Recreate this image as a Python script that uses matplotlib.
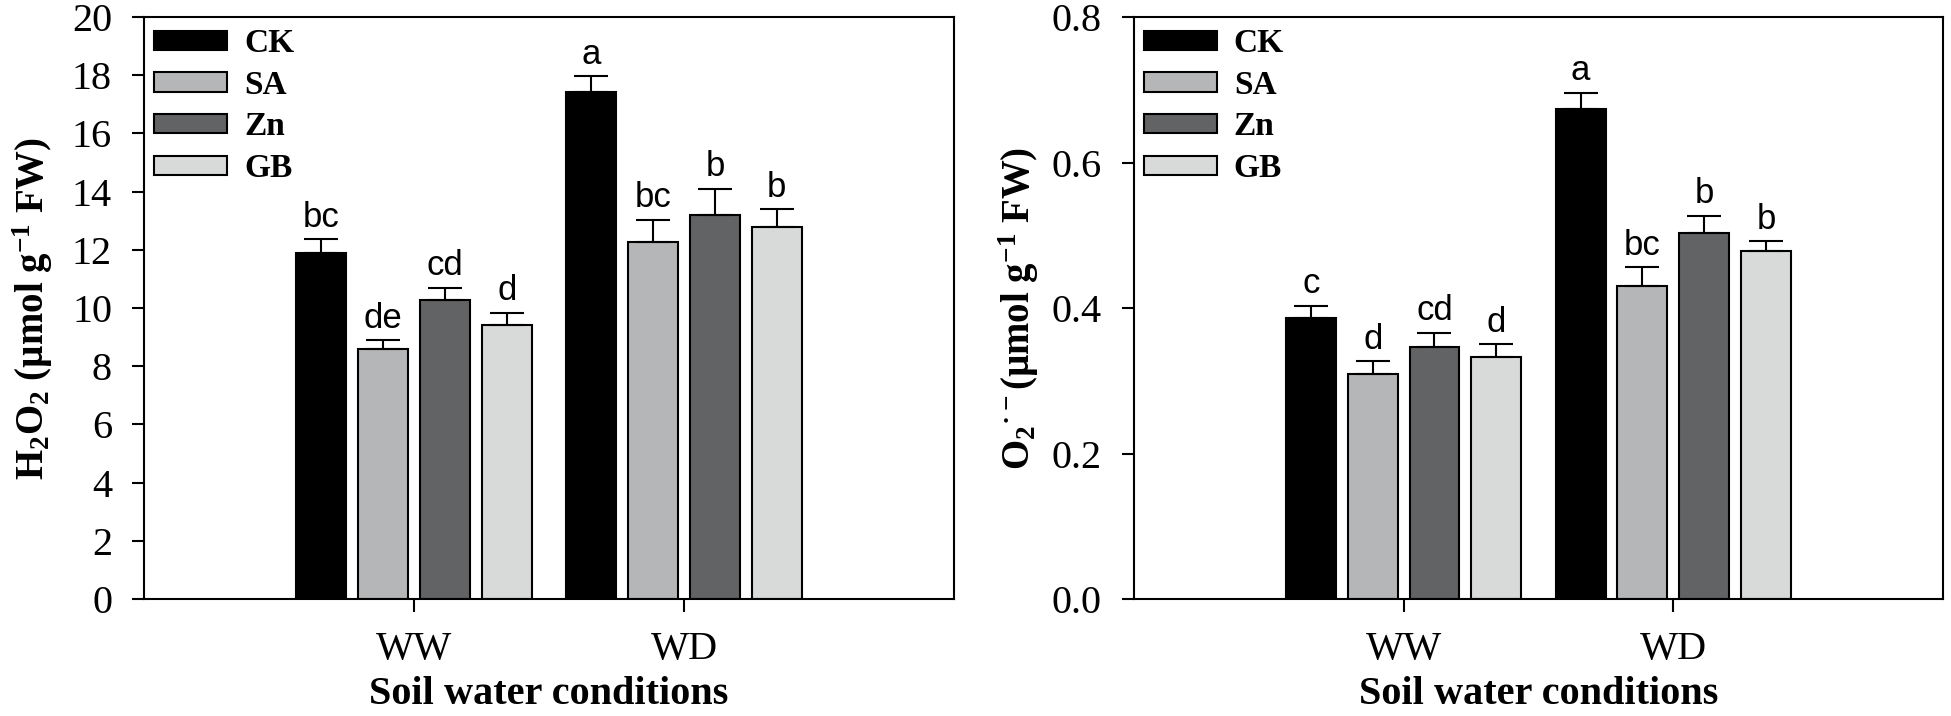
import numpy as np
import matplotlib
matplotlib.use("Agg")
import matplotlib.pyplot as plt

plt.rcParams['font.family'] = 'Liberation Serif'
plt.rcParams['mathtext.fontset'] = 'custom'
plt.rcParams['mathtext.rm'] = 'Liberation Serif:bold'
plt.rcParams['mathtext.it'] = 'Liberation Serif:bold'
plt.rcParams['mathtext.bf'] = 'Liberation Serif:bold'

# Données
conditions = ['WW', 'WD']
treatments = ['CK', 'SA', 'Zn', 'GB']
colors = ['#000000', '#b4b6b7', '#626365', '#d8d9d9']

h2o2 = {'CK': [11.9, 17.41], 'SA': [8.58, 12.26], 'Zn': [10.29, 13.18], 'GB': [9.4, 12.78]}
h2o2_err = {'CK': [0.47, 0.56], 'SA': [0.31, 0.77], 'Zn': [0.41, 0.91], 'GB': [0.43, 0.61]}
h2o2_let = {'CK': ['bc', 'a'], 'SA': ['de', 'bc'], 'Zn': ['cd', 'b'], 'GB': ['d', 'b']}

o2 = {'CK': [0.386, 0.673], 'SA': [0.309, 0.430], 'Zn': [0.346, 0.503], 'GB': [0.332, 0.478]}
o2_err = {'CK': [0.017, 0.023], 'SA': [0.018, 0.026], 'Zn': [0.020, 0.024], 'GB': [0.018, 0.014]}
o2_let = {'CK': ['c', 'a'], 'SA': ['d', 'bc'], 'Zn': ['cd', 'b'], 'GB': ['d', 'b']}

fig = plt.figure(figsize=(19.51, 7.16), dpi=100)
ax1 = fig.add_axes([0.0738, 0.1634, 0.4152, 0.8128])
ax2 = fig.add_axes([0.5812, 0.1634, 0.4147, 0.8128])

x = np.arange(len(conditions))
pas, w = 0.229, 0.185


def panneau(ax, val, err, let, ymax, yticks, fmt, ylabel, lpad):
    for i, t in enumerate(treatments):
        xi = x + (i - 1.5) * pas
        ax.bar(xi, val[t], w, color=colors[i], edgecolor='black', linewidth=1.5,
               label=t, zorder=2)
        ax.errorbar(xi, val[t], yerr=[np.zeros(len(x)), err[t]], fmt='none',
                    ecolor='black', elinewidth=1.5, capsize=12, capthick=1.5, zorder=3)
        for k in range(len(x)):
            ax.annotate(let[t][k], (xi[k], val[t][k] + err[t][k]), xytext=(0, 4),
                        textcoords='offset points', ha='center', va='bottom',
                        family='Liberation Sans', fontsize=25)
    ax.set_xlim(-1, 2)
    ax.set_ylim(0, ymax)
    ax.set_yticks(yticks)
    ax.set_yticklabels([fmt.format(v) for v in yticks])
    ax.set_xticks(x)
    ax.set_xticklabels(conditions)
    ax.tick_params(labelsize=29, length=9, width=1.5, pad=14, direction='out')
    for s in ax.spines.values():
        s.set_linewidth(1.5)
    ax.set_xlabel('Soil water conditions', fontsize=29, fontweight='bold', labelpad=6)
    ax.set_ylabel(ylabel, fontsize=28, fontweight='bold', labelpad=lpad)
    ax.legend(loc='upper left', bbox_to_anchor=(0.0123, 0.981), frameon=False,
              borderpad=0, borderaxespad=0, handlelength=2.2, handleheight=0.52,
              handletextpad=0.5, labelspacing=0.32,
              prop={'family': 'Liberation Serif', 'weight': 'bold', 'size': 24})


panneau(ax1, h2o2, h2o2_err, h2o2_let, 20, np.arange(0, 21, 2), '{:g}',
        'H$_2$O$_2$ (µmol g$^{-1}$ FW)', 12)
panneau(ax2, o2, o2_err, o2_let, 0.8, np.arange(0, 0.81, 0.2), '{:.1f}',
        'O$_2$$^{·-}$(µmol g$^{-1}$ FW)', 8)

fig.savefig('out.png', dpi=100)
